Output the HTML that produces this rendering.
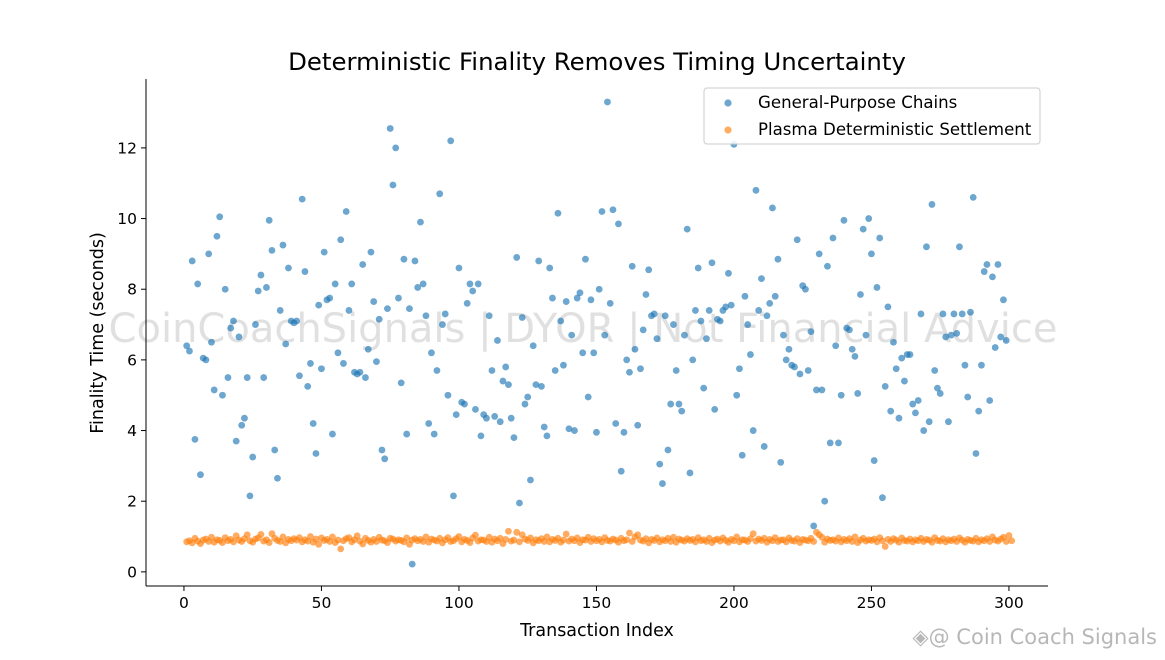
<!DOCTYPE html>
<html><head><meta charset="utf-8">
<style>
html,body{margin:0;padding:0;background:#fff;}
svg{display:block;font-family:"DejaVu Sans","Liberation Sans",sans-serif;}
</style></head>
<body>
<svg id="chart" width="1165" height="660" xmlns="http://www.w3.org/2000/svg">
<rect width="1165" height="660" fill="#fff"/>
<text x="597" y="70" text-anchor="middle" font-size="24.4" fill="#000">Deterministic Finality Removes Timing Uncertainty</text>
<text x="583" y="342" text-anchor="middle" font-size="40" fill="#bbb" fill-opacity="0.45">CoinCoachSignals | DYOR | Not Financial Advice</text>
<g id="marks"></g>
<g id="axes"></g>
<text x="597" y="636" text-anchor="middle" font-size="17.5" fill="#000">Transaction Index</text>
<text transform="translate(103,333) rotate(-90)" text-anchor="middle" font-size="17.5" fill="#000">Finality Time (seconds)</text>
<g>
<rect x="704" y="88" width="336" height="56" rx="3" fill="#fff" fill-opacity="0.85" stroke="#ccc"/>
<circle cx="728" cy="103" r="3.6" fill="#1f77b4" fill-opacity="0.65"/>
<text x="758" y="108" font-size="16.6">General-Purpose Chains</text>
<circle cx="728" cy="130" r="3.6" fill="#ff7f0e" fill-opacity="0.65"/>
<text x="758" y="135" font-size="16.6">Plasma Deterministic Settlement</text>
</g>
<text x="1157" y="644" text-anchor="end" font-size="21" fill="#999" fill-opacity="0.7">◈@ Coin Coach Signals</text>
</svg>
<script>
const general = [6.4,6.25,8.8,3.75,8.15,2.75,6.05,6.0,9.0,6.5,5.15,9.5,10.05,5.0,8.0,5.5,6.9,7.1,3.7,6.65,4.15,4.35,5.5,2.15,3.25,7.0,7.95,8.4,5.5,8.05,9.95,9.1,3.45,2.65,7.4,9.25,6.45,8.6,7.1,7.05,7.1,5.55,10.55,8.5,5.25,5.9,4.2,3.35,7.55,5.75,9.05,7.7,7.75,3.9,8.15,6.2,9.4,5.9,10.2,7.4,8.15,5.65,5.6,5.65,8.7,5.5,6.3,9.05,7.65,5.95,7.15,3.45,3.2,7.45,12.55,10.95,12.0,7.75,5.35,8.85,3.9,7.45,0.22,8.8,8.05,9.9,8.15,7.25,4.2,6.2,3.9,5.7,10.7,7.0,7.3,5.0,12.2,2.15,4.45,8.6,4.8,4.75,7.6,8.15,7.95,4.6,8.15,3.85,4.45,4.35,7.25,5.7,4.4,6.55,4.25,5.4,5.8,5.3,4.35,3.8,8.9,1.95,7.2,4.75,4.95,2.6,6.4,5.3,8.8,5.25,4.1,3.85,8.6,7.75,5.7,10.15,7.1,5.85,7.65,4.05,6.7,4.0,7.75,7.9,6.2,8.85,4.95,7.7,6.2,3.95,8.0,10.2,6.7,13.3,7.6,10.25,4.2,9.85,2.85,3.95,6.0,5.65,8.65,6.3,4.15,5.75,6.85,7.85,8.55,7.25,7.3,6.6,3.05,2.5,7.25,3.45,4.75,7.0,5.7,4.75,4.55,6.7,9.7,2.8,6.0,7.4,8.6,7.1,5.2,6.6,7.4,8.75,4.6,7.15,7.1,7.4,7.5,8.45,7.55,12.1,5.0,5.75,3.3,7.8,7.0,6.15,4.0,10.8,7.4,8.3,3.55,7.25,7.6,10.3,7.8,8.85,3.1,6.7,6.0,6.3,5.85,5.8,9.4,5.6,8.1,8.0,5.7,6.8,1.3,5.15,9.0,5.15,2.0,8.65,3.65,9.45,6.4,3.65,5.0,9.95,6.9,6.85,6.3,6.1,5.05,7.85,9.7,6.7,10.0,9.0,3.15,8.05,9.45,2.1,5.25,7.5,4.55,6.5,5.75,4.35,6.05,5.4,6.15,6.15,4.75,4.5,4.85,7.3,4.0,9.2,4.25,10.4,5.7,5.2,5.05,7.3,6.65,4.25,6.7,7.3,6.75,9.2,7.3,5.85,4.95,7.35,10.6,3.35,4.55,5.85,8.5,8.7,4.85,8.35,6.35,8.7,6.65,7.7,6.55];
const plasma = [0.85,0.88,0.82,0.95,0.87,0.8,0.9,0.93,0.86,0.98,0.84,0.91,0.89,0.83,0.97,0.88,0.92,0.85,1.02,0.9,0.86,0.94,1.05,0.88,0.84,0.93,0.96,1.06,0.87,0.91,0.83,1.08,0.95,0.89,0.86,0.99,0.82,0.92,0.88,0.94,0.9,0.97,0.85,0.91,0.87,1.0,0.84,0.93,0.78,0.96,0.89,0.92,0.86,0.99,0.83,0.9,0.65,0.88,0.94,0.97,0.85,0.91,1.02,0.87,0.79,0.95,0.89,0.84,0.92,0.86,0.98,0.9,0.88,0.83,0.95,0.93,0.87,0.91,0.89,0.85,0.96,0.78,0.9,0.94,0.88,0.92,0.86,0.99,0.84,0.93,0.9,0.87,0.95,0.82,0.91,0.97,0.86,0.88,0.94,1.0,0.85,0.92,0.89,0.83,0.96,1.04,0.87,0.91,0.9,0.86,0.98,0.84,0.93,0.88,0.95,0.8,0.92,1.15,0.87,0.9,1.12,0.85,1.05,0.93,0.89,0.96,0.82,0.91,0.88,0.94,0.86,0.99,0.85,0.92,0.89,0.95,0.84,0.9,1.07,0.87,0.93,0.88,0.96,0.83,0.91,0.9,0.98,0.86,0.94,0.88,0.92,0.85,0.97,0.89,0.87,0.93,0.9,0.84,0.95,0.88,0.91,1.1,0.86,0.99,1.05,0.9,0.87,0.94,0.82,0.92,0.89,0.96,0.85,0.91,0.88,0.95,0.86,0.98,0.84,0.93,0.9,0.87,0.94,0.89,0.92,0.85,0.97,0.88,0.91,0.86,0.95,0.83,0.9,0.93,0.87,0.96,0.89,0.84,0.92,0.88,0.99,0.85,0.91,0.9,0.86,0.94,1.08,0.87,0.93,0.89,0.95,0.84,0.92,0.88,0.97,0.86,0.9,0.91,0.85,0.96,0.89,0.87,0.94,0.83,0.92,0.9,0.88,0.95,0.86,1.12,1.05,0.98,0.84,0.93,0.89,0.91,0.87,0.96,0.85,0.92,0.88,0.94,0.86,0.99,0.83,0.9,0.95,0.87,0.91,0.89,0.93,0.85,0.97,0.88,0.72,0.92,0.86,0.94,0.9,0.84,0.96,0.89,0.87,0.93,0.85,0.91,0.88,0.95,0.86,0.92,0.9,0.84,0.97,0.89,0.87,0.94,0.85,0.91,0.88,0.93,0.86,0.96,0.9,0.84,0.92,0.89,0.87,0.95,0.85,0.91,0.88,0.94,0.86,0.99,0.9,0.87,0.93,0.98,0.86,1.03,0.88];
const xTicks = [0,50,100,150,200,250,300];
const yTicks = [0,2,4,6,8,10,12];

const L=146,R=1048,T=79,B=586;
const xMin=-13.8,xMax=314.2,yMin=-0.4,yMax=13.95;
const sx=v=>L+(v-xMin)/(xMax-xMin)*(R-L);
const sy=v=>B-(v-yMin)/(yMax-yMin)*(B-T);
const NS="http://www.w3.org/2000/svg";
const marks=document.getElementById('marks');
const axes=document.getElementById('axes');
function mk(tag,attrs,parent){const e=document.createElementNS(NS,tag);for(const k in attrs)e.setAttribute(k,attrs[k]);parent.appendChild(e);return e;}

general.forEach((v,i)=>{
  const c=mk('circle',{cx:sx(i+1),cy:sy(v),r:3.4,fill:'#1f77b4','fill-opacity':0.65},marks);
  
  
});
plasma.forEach((v,i)=>{
  const c=mk('circle',{cx:sx(i+1),cy:sy(v),r:3.4,fill:'#ff7f0e','fill-opacity':0.65},marks);
  
  
});

const la=mk('line',{x1:L,y1:T,x2:L,y2:B,stroke:'#000','stroke-width':1},axes);


const ba=mk('line',{x1:L,y1:B,x2:R,y2:B,stroke:'#000','stroke-width':1},axes);



xTicks.forEach(t=>{
  const x=sx(t);
  mk('line',{x1:x,y1:B,x2:x,y2:B+5,stroke:'#000'},axes);
  const tx=mk('text',{x:x,y:B+22,'text-anchor':'middle','font-size':15.5},axes);
  tx.textContent=t;
  
  
});
yTicks.forEach(t=>{
  const y=sy(t);
  mk('line',{x1:L-5,y1:y,x2:L,y2:y,stroke:'#000'},axes);
  const tx=mk('text',{x:L-9,y:y+5.5,'text-anchor':'end','font-size':15.5},axes);
  tx.textContent=t;
  
  
});
</script>
</body></html>
